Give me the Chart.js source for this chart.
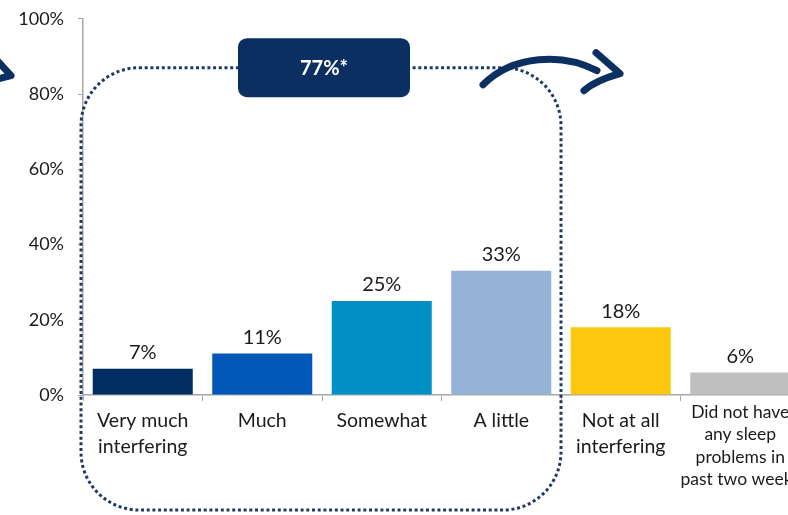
<!DOCTYPE html>
<html>
<head>
<meta charset="utf-8">
<script src="https://cdn.jsdelivr.net/npm/chart.js"></script>
<style>
  html, body { margin: 0; padding: 0; background: #fff; overflow: hidden; }
  #wrap { position: relative; width: 800px; height: 521px; margin-top: -6px; }
</style>
</head>
<body>
<div id="wrap"><canvas id="sommeilChart"></canvas></div>

<script>

// catégories et valeurs (en %)
const categories = [
    ['Very much', 'interfering'],
    ['Much'],
    ['Somewhat'],
    ['A little'],
    ['Not at all', 'interfering'],
    ['Did not have', 'any sleep', 'problems in', 'past two weeks']
];
const valeurs = [7, 11, 25, 33, 18, 6];
const couleurs = ['#002d62', '#0057b7', '#0090c6', '#95b3d7', '#fcc70d', '#bfbfbf'];
const yTicks = [0, 20, 40, 60, 80, 100];
const totalLabel = '77%*';

const police = 'Lato, "Open Sans", sans-serif';
const navy = '#0b2f60';

// étiquettes de valeur au-dessus des barres + libellés de l'axe x
const etiquettes = {
    id: 'etiquettes',
    afterDatasetsDraw(chart) {
        const ctx = chart.ctx;
        const meta = chart.getDatasetMeta(0);
        ctx.save();
        ctx.fillStyle = '#1a1a1a';
        ctx.textAlign = 'center';
        ctx.textBaseline = 'bottom';
        ctx.font = '20px ' + police;
        meta.data.forEach((bar, i) => {
            ctx.fillText(valeurs[i] + '%', bar.x, bar.y - 6);
        });

        const xs = chart.scales.x;
        const bas = chart.scales.y.bottom;
        ctx.textBaseline = 'middle';
        categories.forEach((lignes, i) => {
            const x = xs.getPixelForValue(i);
            const petit = lignes.length > 2;
            ctx.font = (petit ? '17.5px ' : '19.5px ') + police;
            const y0 = bas + (petit ? 17 : 26);
            const pas = petit ? 22.5 : 26;
            lignes.forEach((l, k) => ctx.fillText(l, x, y0 + k * pas));
        });
        ctx.restore();
    }
};

// cadre pointillé, encadré du total et flèches
const decor = {
    id: 'decor',
    afterDraw(chart) {
        const ctx = chart.ctx;
        const xs = chart.scales.x, ys = chart.scales.y;
        const gauche = xs.left - 2;
        const droite = (xs.getPixelForValue(3) + xs.getPixelForValue(4)) / 2;
        const haut = ys.getPixelForValue(87);
        const basCadre = chart.height - 5;
        const r = 58;

        ctx.save();
        ctx.strokeStyle = '#1c3a66';
        ctx.lineWidth = 3;
        ctx.setLineDash([3, 2.7]);
        ctx.beginPath();
        ctx.roundRect(gauche, haut, droite - gauche, basCadre - haut, r);
        ctx.stroke();
        ctx.setLineDash([]);

        // encadré du total
        const cx = (gauche + droite) / 2 + 3;
        const bw = 172, bh = 59;
        ctx.fillStyle = navy;
        ctx.beginPath();
        ctx.roundRect(cx - bw / 2, haut - bh / 2, bw, bh, 9);
        ctx.fill();
        ctx.fillStyle = '#fff';
        ctx.font = 'bold 20px ' + police;
        ctx.textAlign = 'center';
        ctx.textBaseline = 'middle';
        ctx.fillText(totalLabel, cx, haut + 1);

        // flèche de droite
        ctx.strokeStyle = navy;
        ctx.lineWidth = 7;
        ctx.lineCap = 'round';
        ctx.lineJoin = 'round';
        const ax = droite - 78, ay = haut + 17;
        ctx.beginPath();
        ctx.moveTo(ax, ay);
        ctx.bezierCurveTo(ax + 30, ay - 30, ax + 80, ay - 32, ax + 114, ay - 14);
        ctx.stroke();
        const tx = ax + 137, ty = ay - 11;
        ctx.beginPath();
        ctx.moveTo(ax + 113, ay - 32);
        ctx.lineTo(tx, ty);
        ctx.quadraticCurveTo(ax + 112, ay - 4, ax + 101, ay + 6);
        ctx.stroke();

        // pointe de flèche coupée à gauche
        const fy = haut + 8;
        ctx.beginPath();
        ctx.moveTo(-10, fy - 23);
        ctx.lineTo(11, fy);
        ctx.lineTo(-10, fy + 5);
        ctx.stroke();
        ctx.restore();
    }
};

const ctx = document.getElementById('sommeilChart').getContext('2d');
const chart = new Chart(ctx, {
    type: 'bar',
    data: {
        labels: categories.map(c => c.join(' ')),
        datasets: [{
            data: valeurs,
            backgroundColor: couleurs,
            borderWidth: 0,
            barPercentage: 0.837,
            categoryPercentage: 1
        }]
    },
    options: {
        responsive: true,
        maintainAspectRatio: false,
        animation: false,
        layout: { padding: { top: 0, right: 0, left: 0, bottom: 0 } },
        plugins: {
            legend: { display: false },
            tooltip: { enabled: false }
        },
        scales: {
            x: {
                grid: {
                    offset: true,
                    drawOnChartArea: false,
                    tickLength: 6,
                    color: '#a6a6a6'
                },
                border: { color: '#a6a6a6', width: 1.5 },
                ticks: { display: false },
                afterFit(scale) { scale.height = 120; }
            },
            y: {
                min: 0,
                max: 100,
                afterBuildTicks(scale) { scale.ticks = yTicks.map(v => ({ value: v })); },
                grid: {
                    drawOnChartArea: false,
                    tickLength: 5,
                    color: '#a6a6a6'
                },
                border: { color: '#a6a6a6', width: 1.5 },
                ticks: {
                    padding: 14,
                    color: '#1a1a1a',
                    font: { family: police, size: 18 },
                    callback: v => v + '%'
                },
                afterFit(scale) { scale.width = 83; }
            }
        }
    },
    plugins: [etiquettes, decor]
});

</script>
</body>
</html>
